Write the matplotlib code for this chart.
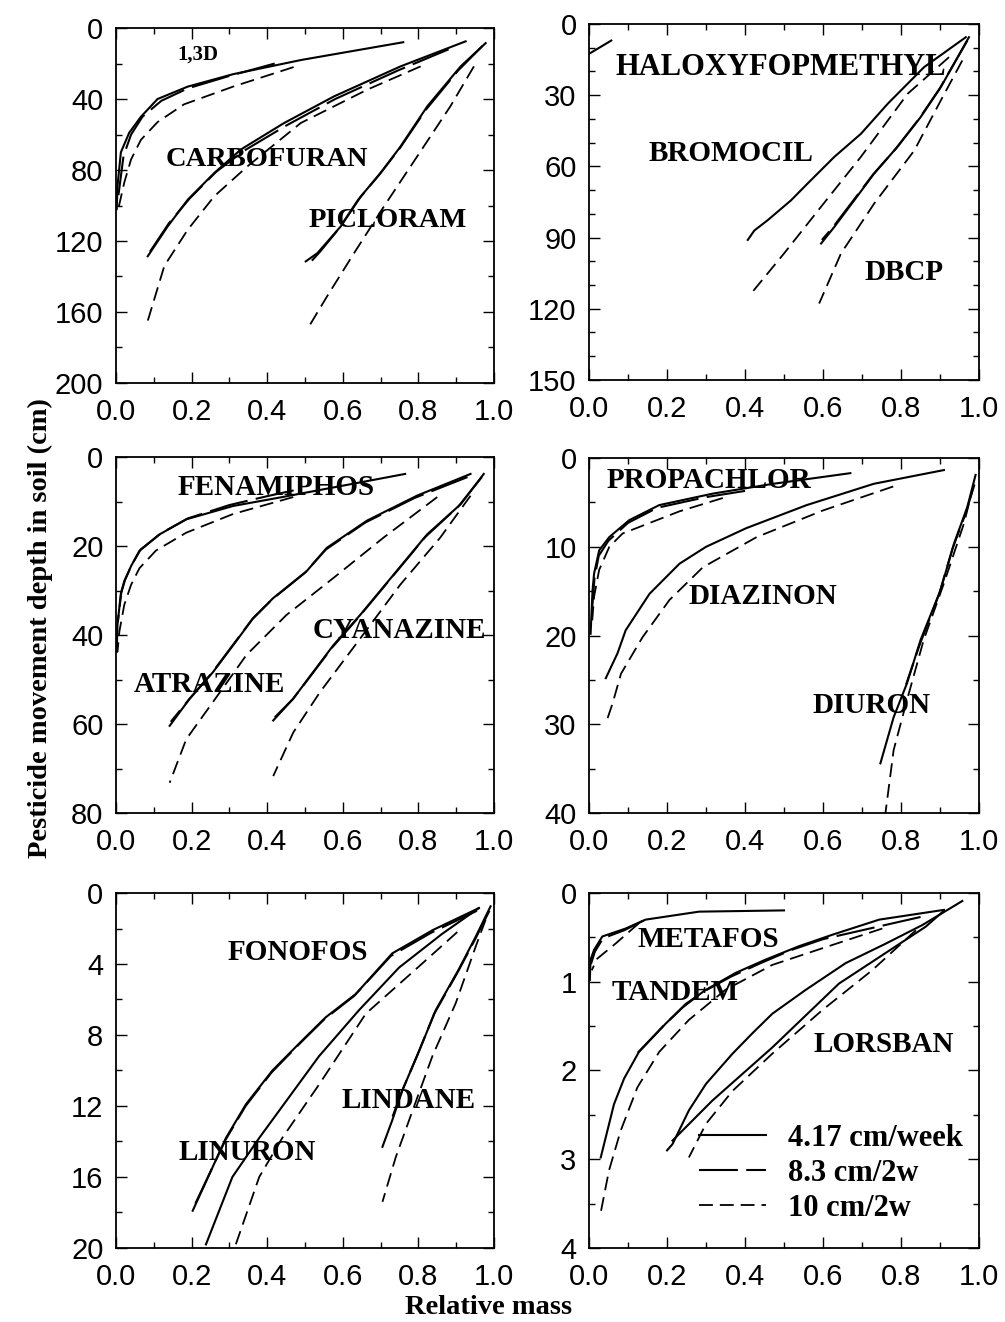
#!/usr/bin/env python3
# Pesticide movement depth vs relative mass, six panels, three leaching rates
import matplotlib
matplotlib.use("Agg")
import matplotlib.pyplot as plt
from matplotlib.ticker import MultipleLocator, AutoMinorLocator

# ---------------- data (relative mass x, depth y) ----------------
# panel 1 : depth 0-200 cm
d13_a_x = [0.76, 0.49, 0.31, 0.19, 0.11, 0.066, 0.035, 0.013, 0.004, 0.002]
d13_a_y = [8, 18, 26, 33, 40, 50, 59, 70, 89, 102]
d13_b_x = [0.42, 0.30, 0.19, 0.12, 0.07, 0.04, 0.02, 0.006]
d13_b_y = [20, 27, 34, 41, 50, 60, 72, 95]
d13_c_x = [0.47, 0.31, 0.18, 0.11, 0.066, 0.04, 0.022, 0.006]
d13_c_y = [22, 33, 43, 53, 63, 74, 87, 102]

carbo_a_x = [0.925, 0.753, 0.577, 0.445, 0.33, 0.26, 0.19, 0.137, 0.084]
carbo_a_y = [7.5, 21.6, 38.5, 53.5, 68.5, 81.7, 96.7, 111.7, 128.6]
carbo_b_x = [0.88, 0.745, 0.58, 0.45, 0.34, 0.265, 0.195, 0.14, 0.09]
carbo_b_y = [12, 24, 40, 55, 69, 81, 96, 110, 126]
carbo_c_x = [0.806, 0.665, 0.489, 0.348, 0.26, 0.19, 0.128, 0.084]
carbo_c_y = [21.6, 34.7, 53.5, 77.9, 94.8, 113.6, 134, 165]

piclo_a_x = [0.978, 0.912, 0.824, 0.753, 0.70, 0.648, 0.595, 0.533, 0.502]
piclo_a_y = [8.5, 21.6, 44, 66.7, 81.7, 94.8, 111.7, 126.8, 131.5]
piclo_b_x = [0.97, 0.905, 0.82, 0.75, 0.695, 0.64, 0.59, 0.54, 0.51]
piclo_b_y = [10, 24, 46, 68, 83, 97, 113, 126, 133]
piclo_c_x = [0.947, 0.885, 0.797, 0.709, 0.63, 0.559, 0.511]
piclo_c_y = [21.6, 44, 72.3, 100.5, 126.8, 151, 168]

# panel 2 : depth 0-150 cm
halo_a_x = [0.0, 0.057]
halo_a_y = [12.6, 7]

bromo_a_x = [0.966, 0.859, 0.766, 0.697, 0.629, 0.56, 0.518, 0.458, 0.424, 0.407]
bromo_a_y = [5.6, 18.2, 33.6, 46.3, 56, 67.3, 74.3, 82.7, 87, 91]
bromo_c_x = [0.923, 0.817, 0.697, 0.595, 0.50, 0.416]
bromo_c_y = [14, 29.4, 56, 77, 96.7, 113.5]

dbcp_a_x = [0.974, 0.902, 0.85, 0.79, 0.731, 0.68, 0.629, 0.595]
dbcp_a_y = [5.6, 26.6, 39.3, 51.9, 63, 74.3, 85.5, 92.5]
dbcp_b_x = [0.97, 0.898, 0.846, 0.787, 0.728, 0.677, 0.626, 0.597]
dbcp_b_y = [7, 27.5, 40, 52.5, 63.5, 74.5, 85.5, 91]
dbcp_c_x = [0.957, 0.902, 0.834, 0.731, 0.646, 0.59]
dbcp_c_y = [15.4, 32.2, 53.3, 75.7, 96.7, 117.8]

# panel 3 : depth 0-80 cm
fena_a_x = [0.765, 0.44, 0.31, 0.186, 0.115, 0.062, 0.04, 0.022, 0.013, 0.004, 0.002]
fena_a_y = [3.8, 9, 11, 14, 17.4, 21.1, 24.5, 27.9, 30.6, 37.7, 43.8]
fena_b_x = [0.47, 0.40, 0.30, 0.19, 0.118, 0.065, 0.042, 0.024, 0.014, 0.005]
fena_b_y = [7.5, 8.8, 10.8, 13.8, 17.2, 20.8, 24.2, 27.6, 30.5, 37]
fena_c_x = [0.469, 0.31, 0.186, 0.106, 0.062, 0.04, 0.022, 0.009, 0.004]
fena_c_y = [9, 12.8, 17, 21, 25, 28.7, 33.2, 39.2, 43.8]

atra_a_x = [0.938, 0.796, 0.664, 0.558, 0.504, 0.416, 0.363, 0.31, 0.257, 0.195, 0.142]
atra_a_y = [3.8, 8.7, 14.3, 20.4, 25.7, 31.7, 36.2, 42.3, 48.3, 54.3, 60.4]
atra_b_x = [0.93, 0.79, 0.66, 0.555, 0.50, 0.413, 0.36, 0.307, 0.254, 0.193, 0.145]
atra_b_y = [4.5, 9.2, 14.7, 20.8, 26, 32, 36.5, 42.5, 48.5, 54.5, 59.5]
atra_c_x = [0.85, 0.708, 0.575, 0.451, 0.345, 0.257, 0.186, 0.142]
atra_c_y = [9, 18.1, 27.2, 35.5, 44.5, 55, 63.4, 73.2]

cyan_a_x = [0.973, 0.912, 0.823, 0.735, 0.646, 0.575, 0.522, 0.469, 0.416]
cyan_a_y = [3.8, 10.6, 17.4, 26.4, 35.5, 42.3, 48.3, 54.3, 59.2]
cyan_b_x = [0.968, 0.907, 0.818, 0.73, 0.642, 0.572, 0.52, 0.468, 0.42]
cyan_b_y = [4.5, 11, 18, 27, 36, 42.8, 48.6, 54.4, 58.5]
cyan_c_x = [0.938, 0.858, 0.752, 0.646, 0.54, 0.469, 0.416]
cyan_c_y = [8.7, 18.1, 28.7, 40.8, 52.8, 61.9, 71.7]

# panel 4 : depth 0-40 cm
prop_a_x = [0.67, 0.472, 0.318, 0.18, 0.103, 0.052, 0.026, 0.013, 0.009, 0.004]
prop_a_y = [1.7, 2.9, 4.0, 5.3, 7.0, 8.9, 10.4, 13, 14.9, 19.8]
prop_b_x = [0.40, 0.30, 0.175, 0.10, 0.05, 0.025, 0.014, 0.008]
prop_b_y = [3.7, 4.4, 5.6, 7.3, 9.3, 11, 13.5, 17]
prop_c_x = [0.343, 0.232, 0.086, 0.052, 0.026, 0.013, 0.007]
prop_c_y = [4.5, 6.0, 8.5, 10, 12.6, 15.6, 19]

diaz_a_x = [0.91, 0.73, 0.558, 0.403, 0.30, 0.232, 0.155, 0.094, 0.073, 0.043]
diaz_a_y = [1.35, 2.9, 5.3, 7.9, 10, 11.9, 15.3, 19.4, 22, 24.8]
diaz_c_x = [0.78, 0.60, 0.43, 0.292, 0.206, 0.137, 0.082, 0.06, 0.043]
diaz_c_y = [3.2, 5.9, 8.9, 12.3, 16, 20.2, 24.3, 27.7, 29.9]

diur_a_x = [0.991, 0.97, 0.936, 0.901, 0.85, 0.815, 0.781, 0.747]
diur_a_y = [1.9, 5.5, 9.6, 14.9, 20.5, 25.4, 29.2, 34.4]
diur_b_x = [0.988, 0.965, 0.932, 0.897, 0.848, 0.813]
diur_b_y = [3.0, 6.3, 10.2, 15.4, 21, 25.5]
diur_c_x = [0.987, 0.961, 0.91, 0.858, 0.815, 0.781, 0.76]
diur_c_y = [2.9, 7.4, 14.1, 20.5, 27.3, 32.9, 40]

# panel 5 : depth 0-20 cm
fono_a_x = [0.96, 0.837, 0.731, 0.634, 0.555, 0.493, 0.414, 0.344, 0.291, 0.203]
fono_a_y = [0.85, 2.1, 3.4, 5.7, 7.0, 8.3, 10, 11.9, 13.8, 17.9]
fono_b_x = [0.955, 0.833, 0.727, 0.63, 0.552, 0.49, 0.412, 0.343, 0.29, 0.21]
fono_b_y = [1.0, 2.25, 3.55, 5.8, 7.1, 8.4, 10.1, 12, 13.9, 17.5]
linu_a_x = [0.96, 0.863, 0.749, 0.643, 0.537, 0.458, 0.379, 0.308, 0.238]
linu_a_y = [0.85, 2.3, 4.2, 6.6, 9.2, 11.5, 13.8, 16, 19.8]
linu_c_x = [0.903, 0.793, 0.661, 0.537, 0.44, 0.379, 0.317]
linu_c_y = [2.2, 4.3, 6.8, 10.8, 13.8, 16, 19.8]

lind_a_x = [0.991, 0.952, 0.907, 0.846, 0.802, 0.758, 0.731, 0.705]
lind_a_y = [0.75, 2.45, 4.3, 6.6, 8.9, 11.1, 12.8, 14.3]
lind_b_x = [0.988, 0.948, 0.903, 0.842, 0.798, 0.756, 0.73]
lind_b_y = [1.0, 2.7, 4.5, 6.8, 9.1, 11.2, 12.7]
lind_c_x = [0.978, 0.952, 0.899, 0.837, 0.784, 0.74, 0.705]
lind_c_y = [1.5, 3.0, 6.2, 9.2, 12.3, 14.9, 17.4]

# panel 6 : depth 0-4 cm
meta_a_x = [0.50, 0.282, 0.145, 0.094, 0.034, 0.013, 0.004, 0.002]
meta_a_y = [0.196, 0.21, 0.30, 0.40, 0.49, 0.64, 0.75, 0.98]
meta_b_x = [0.14, 0.09, 0.036, 0.015, 0.005]
meta_b_y = [0.31, 0.42, 0.51, 0.66, 0.80]
meta_c_x = [0.128, 0.068, 0.021, 0.007]
meta_c_y = [0.34, 0.57, 0.74, 0.87]

tand_a_x = [0.91, 0.744, 0.624, 0.538, 0.453, 0.376, 0.30, 0.248, 0.197, 0.128, 0.09, 0.064, 0.03]
tand_a_y = [0.19, 0.30, 0.47, 0.60, 0.75, 0.90, 1.09, 1.25, 1.47, 1.79, 2.09, 2.38, 2.98]
tand_b_x = [0.85, 0.70, 0.60, 0.52, 0.44, 0.365, 0.29, 0.24, 0.19, 0.125]
tand_b_y = [0.27, 0.42, 0.52, 0.64, 0.79, 0.94, 1.12, 1.29, 1.5, 1.8]
tand_c_x = [0.752, 0.60, 0.47, 0.35, 0.256, 0.18, 0.124, 0.081, 0.051, 0.03]
tand_c_y = [0.40, 0.62, 0.81, 1.09, 1.43, 1.79, 2.19, 2.68, 3.13, 3.6]

lors_a_x = [0.957, 0.855, 0.761, 0.658, 0.556, 0.47, 0.419, 0.368, 0.30, 0.256, 0.214, 0.20]
lors_a_y = [0.09, 0.36, 0.57, 0.79, 1.09, 1.36, 1.58, 1.81, 2.15, 2.45, 2.83, 2.90]
lors_b_x = [0.91, 0.863, 0.641, 0.47, 0.316, 0.214]
lors_b_y = [0.20, 0.38, 1.02, 1.74, 2.34, 2.79]
lors_c_x = [0.838, 0.726, 0.598, 0.47, 0.368, 0.30, 0.256]
lors_c_y = [0.42, 0.87, 1.32, 1.81, 2.23, 2.60, 2.98]

rate_labels = ["4.17 cm/week", "8.3 cm/2w", "10 cm/2w"]

# chemical names with their label anchor (x, depth) and font size
labels_p1 = [("1,3D", 0.216, 15, 15), ("CARBOFURAN", 0.40, 74, 20.5), ("PICLORAM", 0.718, 108.5, 20.5)]
labels_p2 = [("HALOXYFOPMETHYL", 0.492, 18.2, 22), ("BROMOCIL", 0.364, 54.7, 21), ("DBCP", 0.808, 104.8, 21)]
labels_p3 = [("FENAMIPHOS", 0.425, 6.9, 21), ("ATRAZINE", 0.248, 51.2, 21), ("CYANAZINE", 0.75, 38.9, 21)]
labels_p4 = [("PROPACHLOR", 0.306, 2.56, 21), ("DIAZINON", 0.446, 15.6, 21), ("DIURON", 0.723, 27.9, 21)]
labels_p5 = [("FONOFOS", 0.48, 3.34, 21), ("LINURON", 0.348, 14.6, 21), ("LINDANE", 0.773, 11.7, 21)]
labels_p6 = [("METAFOS", 0.305, 0.52, 21), ("TANDEM", 0.22, 1.12, 21), ("LORSBAN", 0.756, 1.71, 21)]

# ---------------- styling ----------------
plt.rcParams["lines.scale_dashes"] = False
SERIF = "Liberation Serif"
SANS = "Liberation Sans"
STYLE = {
    "a": dict(linestyle="-", linewidth=1.5),
    "b": dict(linestyle=(0, (28, 6)), linewidth=1.5),
    "c": dict(linestyle=(0, (10, 5)), linewidth=1.3),
}

panels = [
    dict(pos=[0.1154, 0.7103, 0.3761, 0.2685], ymax=200, ymaj=40, yminor=2,
         curves=[("a", d13_a_x, d13_a_y), ("b", d13_b_x, d13_b_y), ("c", d13_c_x, d13_c_y),
                 ("a", carbo_a_x, carbo_a_y), ("b", carbo_b_x, carbo_b_y), ("c", carbo_c_x, carbo_c_y),
                 ("a", piclo_a_x, piclo_a_y), ("b", piclo_b_x, piclo_b_y), ("c", piclo_c_x, piclo_c_y)],
         labels=labels_p1),
    dict(pos=[0.5861, 0.7126, 0.3881, 0.2693], ymax=150, ymaj=30, yminor=3,
         curves=[("a", halo_a_x, halo_a_y),
                 ("a", bromo_a_x, bromo_a_y), ("c", bromo_c_x, bromo_c_y),
                 ("a", dbcp_a_x, dbcp_a_y), ("b", dbcp_b_x, dbcp_b_y), ("c", dbcp_c_x, dbcp_c_y)],
         labels=labels_p2),
    dict(pos=[0.1154, 0.3850, 0.3761, 0.2693], ymax=80, ymaj=20, yminor=2,
         curves=[("a", fena_a_x, fena_a_y), ("b", fena_b_x, fena_b_y), ("c", fena_c_x, fena_c_y),
                 ("a", atra_a_x, atra_a_y), ("b", atra_b_x, atra_b_y), ("c", atra_c_x, atra_c_y),
                 ("a", cyan_a_x, cyan_a_y), ("b", cyan_b_x, cyan_b_y), ("c", cyan_c_x, cyan_c_y)],
         labels=labels_p3),
    dict(pos=[0.5861, 0.3850, 0.3881, 0.2685], ymax=40, ymaj=10, yminor=2,
         curves=[("a", prop_a_x, prop_a_y), ("b", prop_b_x, prop_b_y), ("c", prop_c_x, prop_c_y),
                 ("a", diaz_a_x, diaz_a_y), ("c", diaz_c_x, diaz_c_y),
                 ("a", diur_a_x, diur_a_y), ("b", diur_b_x, diur_b_y), ("c", diur_c_x, diur_c_y)],
         labels=labels_p4),
    dict(pos=[0.1154, 0.0560, 0.3761, 0.2685], ymax=20, ymaj=4, yminor=2,
         curves=[("a", fono_a_x, fono_a_y), ("b", fono_b_x, fono_b_y),
                 ("a", linu_a_x, linu_a_y), ("c", linu_c_x, linu_c_y),
                 ("a", lind_a_x, lind_a_y), ("b", lind_b_x, lind_b_y), ("c", lind_c_x, lind_c_y)],
         labels=labels_p5),
    dict(pos=[0.5861, 0.0560, 0.3881, 0.2685], ymax=4, ymaj=1, yminor=2,
         curves=[("a", meta_a_x, meta_a_y), ("b", meta_b_x, meta_b_y), ("c", meta_c_x, meta_c_y),
                 ("a", tand_a_x, tand_a_y), ("b", tand_b_x, tand_b_y), ("c", tand_c_x, tand_c_y),
                 ("a", lors_a_x, lors_a_y), ("a", lors_b_x, lors_b_y), ("c", lors_c_x, lors_c_y)],
         labels=labels_p6),
]

fig = plt.figure(figsize=(10.05, 13.22), dpi=100)

axes = []
for p in panels:
    ax = fig.add_axes(p["pos"])
    for key, xs, ys in p["curves"]:
        ax.plot(xs, ys, color="black", **STYLE[key])
    for txt, tx, ty, fs in p["labels"]:
        ax.text(tx, ty, txt, ha="center", va="center", fontsize=fs,
                fontweight="bold", family=SERIF)
    ax.set_xlim(0, 1.0)
    ax.set_ylim(p["ymax"], 0)
    ax.xaxis.set_major_locator(MultipleLocator(0.2))
    ax.xaxis.set_minor_locator(AutoMinorLocator(2))
    ax.yaxis.set_major_locator(MultipleLocator(p["ymaj"]))
    ax.yaxis.set_minor_locator(AutoMinorLocator(p["yminor"]))
    ax.xaxis.set_major_formatter(plt.FuncFormatter(lambda v, _: f"{v:.1f}"))
    ax.tick_params(which="both", direction="in", top=True, right=True,
                   labelsize=21, width=1)
    ax.tick_params(axis="x", pad=11)
    ax.tick_params(axis="y", pad=9)
    ax.tick_params(which="major", length=8)
    ax.tick_params(which="minor", length=4)
    for lab in ax.get_xticklabels() + ax.get_yticklabels():
        lab.set_family(SANS)
    for s in ax.spines.values():
        s.set_linewidth(1.3)
    axes.append(ax)

# legend in the last panel
handles = [plt.Line2D([], [], color="black", **STYLE[k]) for k in ("a", "b", "c")]
leg = axes[5].legend(handles, rate_labels, loc="upper left", bbox_to_anchor=(0.282, 0.35),
                     frameon=False, handlelength=2.2, handletextpad=0.7,
                     labelspacing=0.2, borderpad=0, borderaxespad=0,
                     prop=dict(family=SERIF, weight="bold", size=22))

fig.text(0.040, 0.525, "Pesticide movement depth in soil (cm)", rotation=90,
         ha="center", va="center", fontsize=20.5, fontweight="bold", family=SERIF)
fig.text(0.4866, 0.0012, "Relative mass", ha="center", va="bottom",
         fontsize=20.5, fontweight="bold", family=SERIF)

fig.savefig("out.png", dpi=100)
